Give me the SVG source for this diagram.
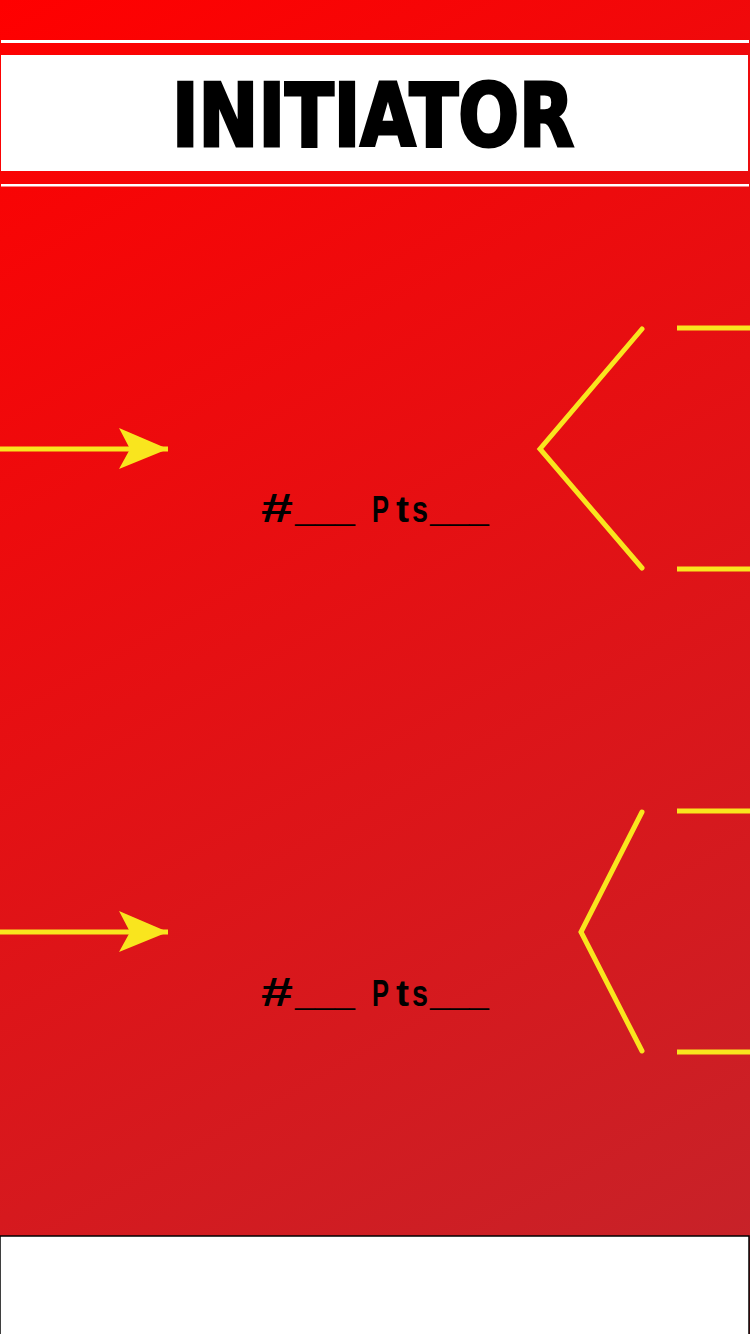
<svg xmlns="http://www.w3.org/2000/svg" width="750" height="1334" viewBox="0 0 750 1334">
  <defs>
    <linearGradient id="bg" gradientUnits="userSpaceOnUse" x1="0" y1="0" x2="750" y2="1334">
      <stop offset="0" stop-color="#ff0000"/>
      <stop offset="1" stop-color="#c4242b"/>
    </linearGradient>
    <marker id="head" markerUnits="userSpaceOnUse" markerWidth="50" markerHeight="42" refX="49" refY="21" orient="auto">
      <path d="M0,0 L49,21 L0,41 L11,21 Z" fill="#f9e51e"/>
    </marker>
  </defs>
  <style>
    .yl { stroke: #f9e51e; stroke-width: 5; fill: none; stroke-linecap: round; stroke-linejoin: miter; }
    .hl { stroke: #f9e51e; stroke-width: 5; fill: none; }
    .wline { fill: #ffffff; }
    .lbl { font-family: "Liberation Sans", "Noto Sans", sans-serif; font-weight: bold; font-size: 37px; fill: #000000; }
    .hash { font-size: 40px; }
    .us { font-size: 44px; }
    .title { font-family: "DejaVu Sans Condensed", "DejaVu Sans", sans-serif; font-weight: bold; font-size: 88px; fill: #000000; stroke: #000000; stroke-width: 3; stroke-linejoin: miter; }
  </style>
  <rect x="0" y="0" width="750" height="1334" fill="url(#bg)"/>

  <g id="header">
    <rect class="wline" x="1" y="40" width="748" height="3"/>
    <rect x="1" y="55" width="747" height="116" fill="#ffffff"/>
    <rect class="wline" x="1" y="184" width="748" height="2.5"/>
    <text class="title" x="172" y="146" textLength="402" lengthAdjust="spacingAndGlyphs">INITIATOR</text>
  </g>

  <g id="connectors">
    <line class="hl" x1="0" y1="449" x2="168" y2="449" marker-end="url(#head)"/>
    <polyline class="yl" points="642,329 540,449 642,568"/>
    <line class="hl" x1="677" y1="328" x2="750" y2="328"/>
    <line class="hl" x1="677" y1="569" x2="750" y2="569"/>

    <line class="hl" x1="0" y1="932" x2="168" y2="932" marker-end="url(#head)"/>
    <polyline class="yl" points="642,812 581,932 642,1051"/>
    <line class="hl" x1="677" y1="811" x2="750" y2="811"/>
    <line class="hl" x1="677" y1="1052" x2="750" y2="1052"/>
  </g>

  <g id="label1">
    <text class="lbl" y="522"><tspan class="hash" x="261" textLength="32" lengthAdjust="spacingAndGlyphs">#</tspan><tspan class="us" x="295" y="521" textLength="60" lengthAdjust="spacingAndGlyphs">___</tspan><tspan x="372" y="522" textLength="17" lengthAdjust="spacingAndGlyphs">P</tspan><tspan x="396" textLength="13" lengthAdjust="spacingAndGlyphs">t</tspan><tspan x="412" textLength="16" lengthAdjust="spacingAndGlyphs">s</tspan><tspan class="us" x="430" y="521" textLength="59" lengthAdjust="spacingAndGlyphs">___</tspan></text>
  </g>

  <g id="label2">
    <text class="lbl" y="1006"><tspan class="hash" x="261" textLength="32" lengthAdjust="spacingAndGlyphs">#</tspan><tspan class="us" x="295" y="1005" textLength="60" lengthAdjust="spacingAndGlyphs">___</tspan><tspan x="372" y="1006" textLength="17" lengthAdjust="spacingAndGlyphs">P</tspan><tspan x="396" textLength="13" lengthAdjust="spacingAndGlyphs">t</tspan><tspan x="412" textLength="16" lengthAdjust="spacingAndGlyphs">s</tspan><tspan class="us" x="430" y="1005" textLength="59" lengthAdjust="spacingAndGlyphs">___</tspan></text>
  </g>

  <g id="footer">
    <rect x="0" y="1236" width="749" height="100" fill="#ffffff" stroke="#000000" stroke-width="1.5"/>
  </g>
</svg>
